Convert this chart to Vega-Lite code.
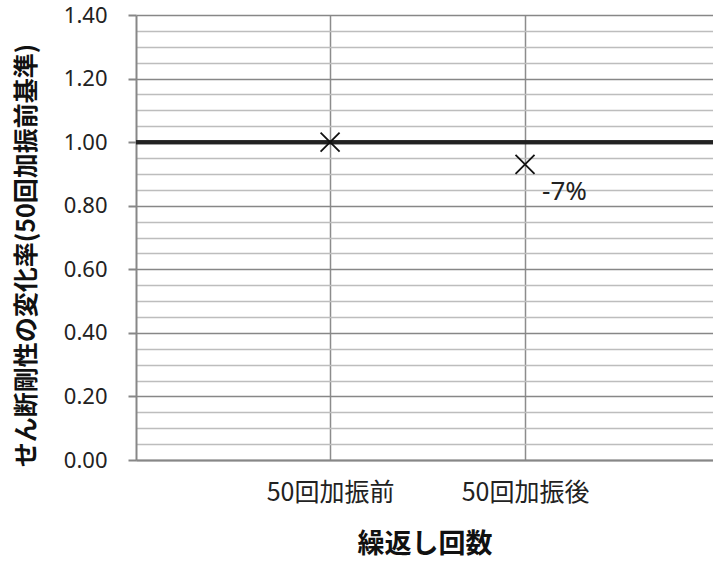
{
  "$schema": "https://vega.github.io/schema/vega-lite/v6.json",
  "width": 577,
  "height": 445,
  "autosize": {"type": "none"},
  "padding": {"left": 136, "top": 15, "right": 0, "bottom": 102},
  "background": "white",
  "config": {"view": {"stroke": null}},
  "data": {"values": [
    {"cycle": "50回加振前", "ratio": 1.0, "label": ""},
    {"cycle": "50回加振後", "ratio": 0.93, "label": "-7%"}
  ]},
  "encoding": {
    "x": {
      "field": "cycle", "type": "ordinal", "sort": null,
      "scale": {"type": "point", "padding": 0.98, "align": 0.508},
      "axis": {
        "title": "繰返し回数",
        "titleFont": "Noto Sans CJK JP", "titleFontSize": 27, "titleFontWeight": "bold", "titleColor": "#111",
        "titlePadding": 26,
        "labelFont": "Noto Sans CJK JP", "labelFontSize": 25, "labelColor": "#222", "labelPadding": 20,
        "labelAngle": 0,
        "ticks": false,
        "grid": true, "gridColor": "#8c8c8c", "gridWidth": 1.5,
        "domainColor": "#878787", "domainWidth": 2
      }
    },
    "y": {
      "field": "ratio", "type": "quantitative",
      "scale": {"domain": [0, 1.4], "nice": false, "zero": true},
      "axis": {
        "title": "せん断剛性の変化率(50回加振前基準)",
        "titleFont": "Noto Sans CJK JP", "titleFontSize": 25, "titleFontWeight": "bold", "titleColor": "#111",
        "titlePadding": 24,
        "titleY": 240,
        "values": [0, 0.05, 0.1, 0.15, 0.2, 0.25, 0.3, 0.35, 0.4, 0.45, 0.5, 0.55, 0.6, 0.65, 0.7, 0.75, 0.8, 0.85, 0.9, 0.95, 1.0, 1.05, 1.1, 1.15, 1.2, 1.25, 1.3, 1.35, 1.4],
        "labelExpr": "round(datum.value*100) % 20 == 0 ? format(datum.value, '.2f') : ''",
        "labelFont": "Noto Sans", "labelFontSize": 22, "labelColor": "#222", "labelPadding": 21,
        "tickSize": 8,
        "tickWidth": 2,
        "tickColor": {"condition": {"test": "round(datum.value*100) % 20 == 0", "value": "#878787"}, "value": "transparent"},
        "grid": true,
        "gridColor": {"condition": {"test": "round(datum.value*100) % 20 == 0", "value": "#878787"}, "value": "#bdbdbd"},
        "gridWidth": 1.5,
        "domainColor": "#878787", "domainWidth": 2
      }
    }
  },
  "layer": [
    {
      "mark": {"type": "rule", "color": "#222", "strokeWidth": 4},
      "encoding": {"y": {"datum": 1}, "x": null}
    },
    {
      "mark": {"type": "point", "shape": "M-1,-1L1,1M-1,1L1,-1", "filled": false, "stroke": "#111", "strokeWidth": 1.8, "size": 361, "opacity": 1}
    },
    {
      "mark": {"type": "text", "align": "left", "baseline": "middle", "dx": 17, "dy": 28, "font": "Noto Sans", "fontSize": 26, "color": "#222"},
      "encoding": {"text": {"field": "label"}}
    }
  ]
}
